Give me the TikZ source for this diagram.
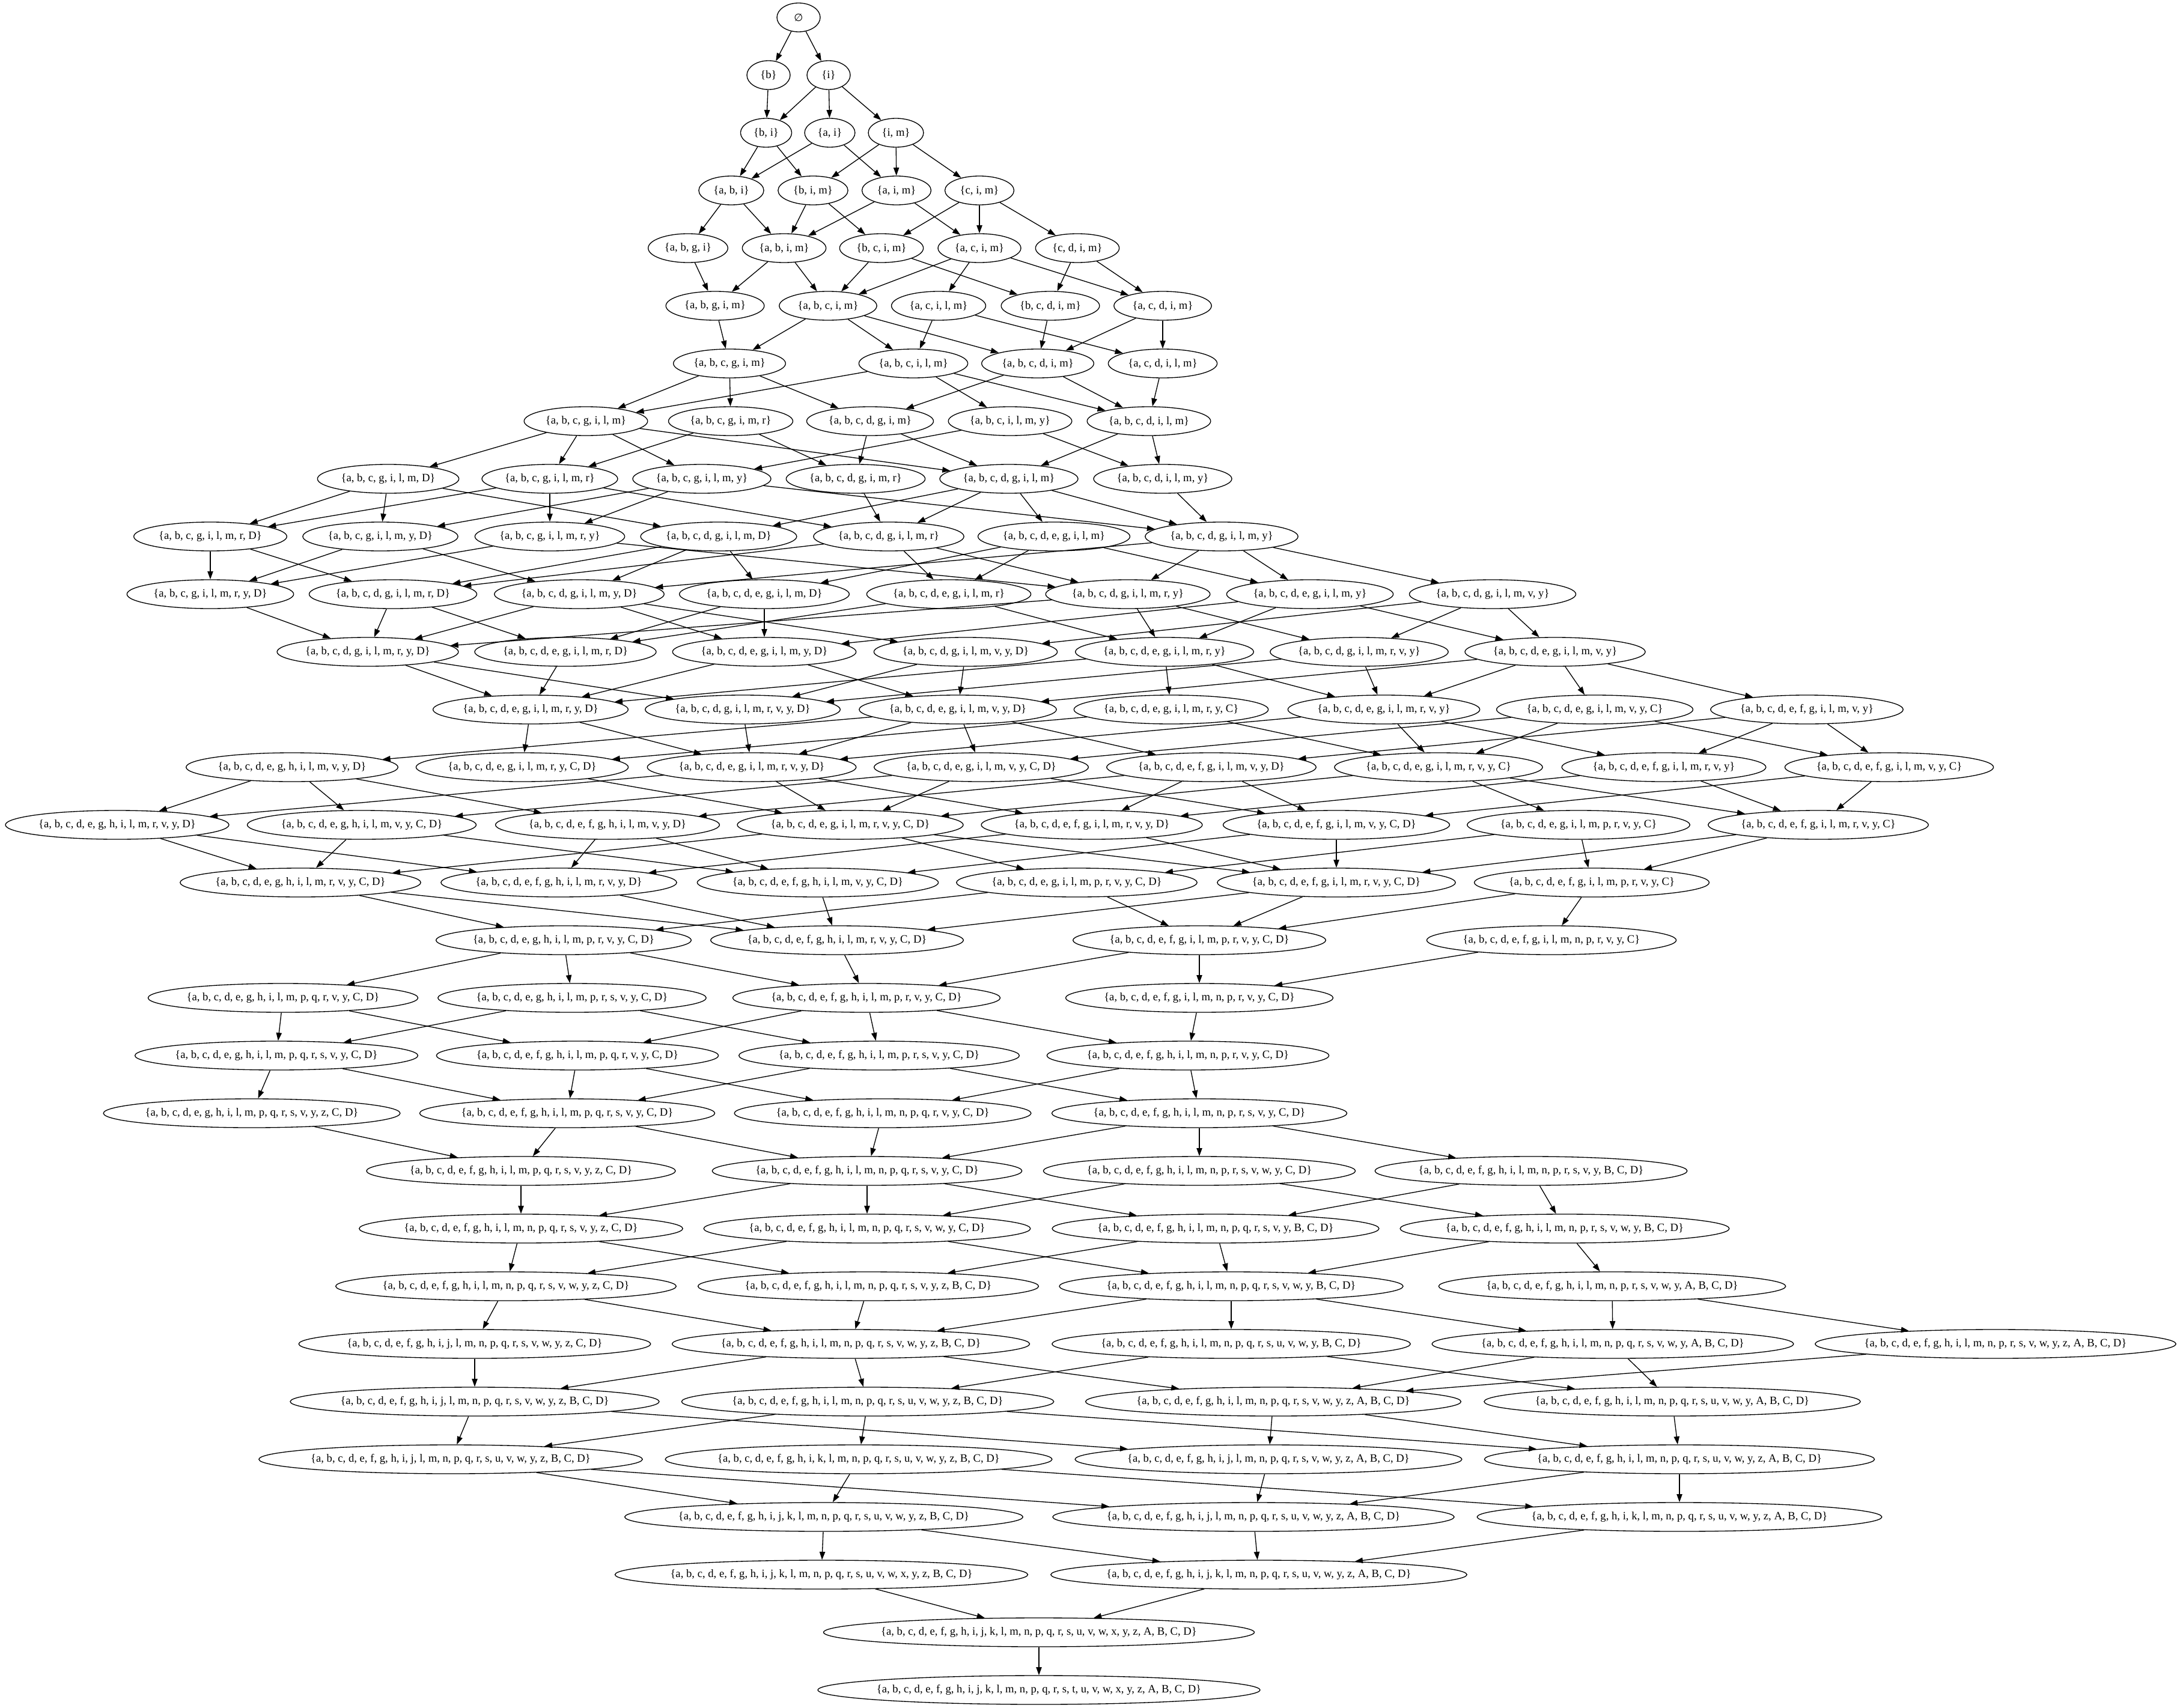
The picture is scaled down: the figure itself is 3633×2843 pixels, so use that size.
\documentclass[tikz,border=0pt]{standalone}
\usepackage{fontspec}
\setmainfont{Liberation Serif}
\newfontfamily\esfont{DejaVu Sans}
\usetikzlibrary{shapes.geometric,arrows.meta}
\newcommand\gfont{\fontsize{14pt}{16pt}\selectfont}
\tikzset{
  gnode/.style={draw, ellipse, inner xsep=8.13pt, inner ysep=2pt, minimum width=54pt, minimum height=36pt, line width=1pt, font=\gfont},
  gedge/.style={-{Triangle[length=10pt,width=7pt]}, line width=1pt}
}
\newcommand\gn[4]{%
  \node[gnode] (#1) at (#2,#3) {\makebox[0.9228\width]{\{#4\}}};}
\begin{document}
\begin{tikzpicture}[x=0.75pt,y=-0.75pt]
\path[fill=white] (0,0) rectangle (3633,2843);
\useasboundingbox (0,0) rectangle (3633,2843);
% row 0
\node[gnode,inner xsep=0pt] (a0) at (1329,29) {\esfont\fontsize{13pt}{15pt}\selectfont ∅};
% row 1
\gn{a1}{1279}{125}{b}
\gn{b1}{1379}{125}{i}
% row 2
\gn{a2}{1275}{221}{b, i}
\gn{b2}{1381}{221}{a, i}
\gn{c2}{1491}{221}{i, m}
% row 3
\gn{a3}{1217}{317}{a, b, i}
\gn{b3}{1353}{317}{b, i, m}
\gn{c3}{1492}{317}{a, i, m}
\gn{d3}{1630}{317}{c, i, m}
% row 4
\gn{a4}{1145}{413}{a, b, g, i}
\gn{b4}{1305}{413}{a, b, i, m}
\gn{c4}{1467}{413}{b, c, i, m}
\gn{d4}{1630}{413}{a, c, i, m}
\gn{e4}{1793}{413}{c, d, i, m}
% row 5
\gn{a5}{1190}{509}{a, b, g, i, m}
\gn{b5}{1378}{509}{a, b, c, i, m}
\gn{c5}{1562}{509}{a, c, i, l, m}
\gn{d5}{1748}{509}{b, c, d, i, m}
\gn{e5}{1935}{509}{a, c, d, i, m}
% row 6
\gn{a6}{1214}{605}{a, b, c, g, i, m}
\gn{b6}{1520}{605}{a, b, c, i, l, m}
\gn{c6}{1727}{605}{a, b, c, d, i, m}
\gn{d6}{1935}{605}{a, c, d, i, l, m}
% row 7
\gn{a7}{975}{701}{a, b, c, g, i, l, m}
\gn{b7}{1216}{701}{a, b, c, g, i, m, r}
\gn{c7}{1448}{701}{a, b, c, d, g, i, m}
\gn{d7}{1681}{701}{a, b, c, i, l, m, y}
\gn{e7}{1912}{701}{a, b, c, d, i, l, m}
% row 8
\gn{a8}{646}{797}{a, b, c, g, i, l, m, D}
\gn{b8}{915}{797}{a, b, c, g, i, l, m, r}
\gn{c8}{1168}{797}{a, b, c, g, i, l, m, y}
\gn{d8}{1424}{797}{a, b, c, d, g, i, m, r}
\gn{e8}{1679}{797}{a, b, c, d, g, i, l, m}
\gn{f8}{1935}{797}{a, b, c, d, i, l, m, y}
% row 9
\gn{a9}{350}{893}{a, b, c, g, i, l, m, r, D}
\gn{b9}{633}{893}{a, b, c, g, i, l, m, y, D}
\gn{c9}{915}{893}{a, b, c, g, i, l, m, r, y}
\gn{d9}{1196}{893}{a, b, c, d, g, i, l, m, D}
\gn{e9}{1479}{893}{a, b, c, d, g, i, l, m, r}
\gn{f9}{1754}{893}{a, b, c, d, e, g, i, l, m}
\gn{g9}{2033}{893}{a, b, c, d, g, i, l, m, y}
% row 10
\gn{a10}{350}{989}{a, b, c, g, i, l, m, r, y, D}
\gn{b10}{654}{989}{a, b, c, d, g, i, l, m, r, D}
\gn{c10}{964}{989}{a, b, c, d, g, i, l, m, y, D}
\gn{d10}{1272}{989}{a, b, c, d, e, g, i, l, m, D}
\gn{e10}{1579}{989}{a, b, c, d, e, g, i, l, m, r}
\gn{f10}{1877}{989}{a, b, c, d, g, i, l, m, r, y}
\gn{g10}{2180}{989}{a, b, c, d, e, g, i, l, m, y}
\gn{h10}{2484}{989}{a, b, c, d, g, i, l, m, v, y}
% row 11
\gn{a11}{612}{1085}{a, b, c, d, g, i, l, m, r, y, D}
\gn{b11}{941}{1085}{a, b, c, d, e, g, i, l, m, r, D}
\gn{c11}{1272}{1085}{a, b, c, d, e, g, i, l, m, y, D}
\gn{d11}{1607}{1085}{a, b, c, d, g, i, l, m, v, y, D}
\gn{e11}{1938}{1085}{a, b, c, d, e, g, i, l, m, r, y}
\gn{f11}{2262}{1085}{a, b, c, d, g, i, l, m, r, v, y}
\gn{g11}{2588}{1085}{a, b, c, d, e, g, i, l, m, v, y}
% row 12
\gn{a12}{883}{1181}{a, b, c, d, e, g, i, l, m, r, y, D}
\gn{b12}{1236}{1181}{a, b, c, d, g, i, l, m, r, v, y, D}
\gn{c12}{1594}{1181}{a, b, c, d, e, g, i, l, m, v, y, D}
\gn{d12}{1949}{1181}{a, b, c, d, e, g, i, l, m, r, y, C}
\gn{e12}{2303}{1181}{a, b, c, d, e, g, i, l, m, r, v, y}
\gn{f12}{2654}{1181}{a, b, c, d, e, g, i, l, m, v, y, C}
\gn{g12}{3007}{1181}{a, b, c, d, e, f, g, i, l, m, v, y}
% row 13
\gn{a13}{486}{1277}{a, b, c, d, e, g, h, i, l, m, v, y, D}
\gn{b13}{869}{1277}{a, b, c, d, e, g, i, l, m, r, y, C, D}
\gn{c13}{1251}{1277}{a, b, c, d, e, g, i, l, m, r, v, y, D}
\gn{d13}{1633}{1277}{a, b, c, d, e, g, i, l, m, v, y, C, D}
\gn{e13}{2016}{1277}{a, b, c, d, e, f, g, i, l, m, v, y, D}
\gn{f13}{2394}{1277}{a, b, c, d, e, g, i, l, m, r, v, y, C}
\gn{g13}{2769}{1277}{a, b, c, d, e, f, g, i, l, m, r, v, y}
\gn{h13}{3144}{1277}{a, b, c, d, e, f, g, i, l, m, v, y, C}
% row 14
\gn{a14}{195}{1373}{a, b, c, d, e, g, h, i, l, m, r, v, y, D}
\gn{b14}{602}{1373}{a, b, c, d, e, g, h, i, l, m, v, y, C, D}
\gn{c14}{1011}{1373}{a, b, c, d, e, f, g, h, i, l, m, v, y, D}
\gn{d14}{1415}{1373}{a, b, c, d, e, g, i, l, m, r, v, y, C, D}
\gn{e14}{1817}{1373}{a, b, c, d, e, f, g, i, l, m, r, v, y, D}
\gn{f14}{2224}{1373}{a, b, c, d, e, f, g, i, l, m, v, y, C, D}
\gn{g14}{2627}{1373}{a, b, c, d, e, g, i, l, m, p, r, v, y, C}
\gn{h14}{3026}{1373}{a, b, c, d, e, f, g, i, l, m, r, v, y, C}
% row 15
\gn{a15}{500}{1469}{a, b, c, d, e, g, h, i, l, m, r, v, y, C, D}
\gn{b15}{930}{1469}{a, b, c, d, e, f, g, h, i, l, m, r, v, y, D}
\gn{c15}{1361}{1469}{a, b, c, d, e, f, g, h, i, l, m, v, y, C, D}
\gn{d15}{1792}{1469}{a, b, c, d, e, g, i, l, m, p, r, v, y, C, D}
\gn{e15}{2224}{1469}{a, b, c, d, e, f, g, i, l, m, r, v, y, C, D}
\gn{f15}{2649}{1469}{a, b, c, d, e, f, g, i, l, m, p, r, v, y, C}
% row 16
\gn{a16}{938}{1565}{a, b, c, d, e, g, h, i, l, m, p, r, v, y, C, D}
\gn{b16}{1393}{1565}{a, b, c, d, e, f, g, h, i, l, m, r, v, y, C, D}
\gn{c16}{1996}{1565}{a, b, c, d, e, f, g, i, l, m, p, r, v, y, C, D}
\gn{d16}{2582}{1565}{a, b, c, d, e, f, g, i, l, m, n, p, r, v, y, C}
% row 17
\gn{a17}{471}{1661}{a, b, c, d, e, g, h, i, l, m, p, q, r, v, y, C, D}
\gn{b17}{952}{1661}{a, b, c, d, e, g, h, i, l, m, p, r, s, v, y, C, D}
\gn{c17}{1442}{1661}{a, b, c, d, e, f, g, h, i, l, m, p, r, v, y, C, D}
\gn{d17}{1996}{1661}{a, b, c, d, e, f, g, i, l, m, n, p, r, v, y, C, D}
% row 18
\gn{a18}{460}{1757}{a, b, c, d, e, g, h, i, l, m, p, q, r, s, v, y, C, D}
\gn{b18}{961}{1757}{a, b, c, d, e, f, g, h, i, l, m, p, q, r, v, y, C, D}
\gn{c18}{1463}{1757}{a, b, c, d, e, f, g, h, i, l, m, p, r, s, v, y, C, D}
\gn{d18}{1977}{1757}{a, b, c, d, e, f, g, h, i, l, m, n, p, r, v, y, C, D}
% row 19
\gn{a19}{419}{1853}{a, b, c, d, e, g, h, i, l, m, p, q, r, s, v, y, z, C, D}
\gn{b19}{944}{1853}{a, b, c, d, e, f, g, h, i, l, m, p, q, r, s, v, y, C, D}
\gn{c19}{1469}{1853}{a, b, c, d, e, f, g, h, i, l, m, n, p, q, r, v, y, C, D}
\gn{d19}{1996}{1853}{a, b, c, d, e, f, g, h, i, l, m, n, p, r, s, v, y, C, D}
% row 20
\gn{a20}{867}{1949}{a, b, c, d, e, f, g, h, i, l, m, p, q, r, s, v, y, z, C, D}
\gn{b20}{1443}{1949}{a, b, c, d, e, f, g, h, i, l, m, n, p, q, r, s, v, y, C, D}
\gn{c20}{1996}{1949}{a, b, c, d, e, f, g, h, i, l, m, n, p, r, s, v, w, y, C, D}
\gn{d20}{2548}{1949}{a, b, c, d, e, f, g, h, i, l, m, n, p, r, s, v, y, B, C, D}
% row 21
\gn{a21}{867}{2045}{a, b, c, d, e, f, g, h, i, l, m, n, p, q, r, s, v, y, z, C, D}
\gn{b21}{1443}{2045}{a, b, c, d, e, f, g, h, i, l, m, n, p, q, r, s, v, w, y, C, D}
\gn{c21}{2023}{2045}{a, b, c, d, e, f, g, h, i, l, m, n, p, q, r, s, v, y, B, C, D}
\gn{d21}{2604}{2045}{a, b, c, d, e, f, g, h, i, l, m, n, p, r, s, v, w, y, B, C, D}
% row 22
\gn{a22}{842}{2141}{a, b, c, d, e, f, g, h, i, l, m, n, p, q, r, s, v, w, y, z, C, D}
\gn{b22}{1445}{2141}{a, b, c, d, e, f, g, h, i, l, m, n, p, q, r, s, v, y, z, B, C, D}
\gn{c22}{2049}{2141}{a, b, c, d, e, f, g, h, i, l, m, n, p, q, r, s, v, w, y, B, C, D}
\gn{d22}{2683}{2141}{a, b, c, d, e, f, g, h, i, l, m, n, p, r, s, v, w, y, A, B, C, D}
% row 23
\gn{a23}{790}{2237}{a, b, c, d, e, f, g, h, i, j, l, m, n, p, q, r, s, v, w, y, z, C, D}
\gn{b23}{1416}{2237}{a, b, c, d, e, f, g, h, i, l, m, n, p, q, r, s, v, w, y, z, B, C, D}
\gn{c23}{2049}{2237}{a, b, c, d, e, f, g, h, i, l, m, n, p, q, r, s, u, v, w, y, B, C, D}
\gn{d23}{2684}{2237}{a, b, c, d, e, f, g, h, i, l, m, n, p, q, r, s, v, w, y, A, B, C, D}
\gn{e23}{3321}{2237}{a, b, c, d, e, f, g, h, i, l, m, n, p, r, s, v, w, y, z, A, B, C, D}
% row 24
\gn{a24}{790}{2333}{a, b, c, d, e, f, g, h, i, j, l, m, n, p, q, r, s, v, w, y, z, B, C, D}
\gn{b24}{1444}{2333}{a, b, c, d, e, f, g, h, i, l, m, n, p, q, r, s, u, v, w, y, z, B, C, D}
\gn{c24}{2119}{2333}{a, b, c, d, e, f, g, h, i, l, m, n, p, q, r, s, v, w, y, z, A, B, C, D}
\gn{d24}{2783}{2333}{a, b, c, d, e, f, g, h, i, l, m, n, p, q, r, s, u, v, w, y, A, B, C, D}
% row 25
\gn{a25}{750}{2429}{a, b, c, d, e, f, g, h, i, j, l, m, n, p, q, r, s, u, v, w, y, z, B, C, D}
\gn{b25}{1429}{2429}{a, b, c, d, e, f, g, h, i, k, l, m, n, p, q, r, s, u, v, w, y, z, B, C, D}
\gn{c25}{2111}{2429}{a, b, c, d, e, f, g, h, i, j, l, m, n, p, q, r, s, v, w, y, z, A, B, C, D}
\gn{d25}{2795}{2429}{a, b, c, d, e, f, g, h, i, l, m, n, p, q, r, s, u, v, w, y, z, A, B, C, D}
% row 26
\gn{a26}{1371}{2525}{a, b, c, d, e, f, g, h, i, j, k, l, m, n, p, q, r, s, u, v, w, y, z, B, C, D}
\gn{b26}{2086}{2525}{a, b, c, d, e, f, g, h, i, j, l, m, n, p, q, r, s, u, v, w, y, z, A, B, C, D}
\gn{c26}{2795}{2525}{a, b, c, d, e, f, g, h, i, k, l, m, n, p, q, r, s, u, v, w, y, z, A, B, C, D}
% row 27
\gn{a27}{1367}{2621}{a, b, c, d, e, f, g, h, i, j, k, l, m, n, p, q, r, s, u, v, w, x, y, z, B, C, D}
\gn{b27}{2095}{2621}{a, b, c, d, e, f, g, h, i, j, k, l, m, n, p, q, r, s, u, v, w, y, z, A, B, C, D}
% row 28
\gn{a28}{1729}{2717}{a, b, c, d, e, f, g, h, i, j, k, l, m, n, p, q, r, s, u, v, w, x, y, z, A, B, C, D}
% row 29
\gn{a29}{1729}{2813}{a, b, c, d, e, f, g, h, i, j, k, l, m, n, p, q, r, s, t, u, v, w, x, y, z, A, B, C, D}
% edges
\foreach \s/\t in {
a0/a1, a0/b1,
a1/a2, b1/a2, b1/b2, b1/c2,
a2/a3, a2/b3, b2/a3, b2/c3, c2/b3, c2/c3, c2/d3,
a3/a4, a3/b4, b3/b4, b3/c4, c3/b4, c3/d4, d3/c4, d3/d4, d3/e4,
a4/a5, b4/a5, b4/b5, c4/b5, c4/d5, d4/b5, d4/c5, d4/e5, e4/d5, e4/e5,
a5/a6, b5/a6, b5/b6, b5/c6, c5/b6, c5/d6, d5/c6, e5/c6, e5/d6,
a6/a7, a6/b7, a6/c7, b6/a7, b6/d7, b6/e7, c6/c7, c6/e7, d6/e7,
a7/a8, a7/b8, a7/c8, a7/e8, b7/b8, b7/d8, c7/d8, c7/e8, d7/c8, d7/f8, e7/e8, e7/f8,
a8/a9, a8/b9, a8/d9, b8/a9, b8/c9, b8/e9, c8/b9, c8/c9, c8/g9, d8/e9, e8/d9, e8/e9, e8/f9, e8/g9, f8/g9,
a9/a10, a9/b10, b9/a10, b9/c10, c9/a10, c9/f10, d9/b10, d9/c10, d9/d10, e9/b10, e9/e10, e9/f10, f9/d10, f9/e10, f9/g10, g9/c10, g9/f10, g9/g10, g9/h10,
a10/a11, b10/a11, b10/b11, c10/a11, c10/c11, c10/d11, d10/b11, d10/c11, e10/b11, e10/e11, f10/a11, f10/e11, f10/f11, g10/c11, g10/e11, g10/g11, h10/d11, h10/f11, h10/g11,
a11/a12, a11/b12, b11/a12, c11/a12, c11/c12, d11/b12, d11/c12, e11/a12, e11/d12, e11/e12, f11/b12, f11/e12, g11/c12, g11/e12, g11/f12, g11/g12,
a12/b13, a12/c13, b12/c13, c12/a13, c12/c13, c12/d13, c12/e13, d12/b13, d12/f13, e12/c13, e12/f13, e12/g13, f12/d13, f12/f13, f12/h13, g12/e13, g12/g13, g12/h13,
a13/a14, a13/b14, a13/c14, b13/d14, c13/a14, c13/d14, c13/e14, d13/b14, d13/d14, d13/f14, e13/c14, e13/e14, e13/f14, f13/d14, f13/g14, f13/h14, g13/e14, g13/h14, h13/f14, h13/h14,
a14/a15, a14/b15, b14/a15, b14/c15, c14/b15, c14/c15, d14/a15, d14/d15, d14/e15, e14/b15, e14/e15, f14/c15, f14/e15, g14/d15, g14/f15, h14/e15, h14/f15,
a15/a16, a15/b16, b15/b16, c15/b16, d15/a16, d15/c16, e15/b16, e15/c16, f15/c16, f15/d16,
a16/a17, a16/b17, a16/c17, b16/c17, c16/c17, c16/d17, d16/d17,
a17/a18, a17/b18, b17/a18, b17/c18, c17/b18, c17/c18, c17/d18, d17/d18,
a18/a19, a18/b19, b18/b19, b18/c19, c18/b19, c18/d19, d18/c19, d18/d19,
a19/a20, b19/a20, b19/b20, c19/b20, d19/b20, d19/c20, d19/d20,
a20/a21, b20/a21, b20/b21, b20/c21, c20/b21, c20/d21, d20/c21, d20/d21,
a21/a22, a21/b22, b21/a22, b21/c22, c21/b22, c21/c22, d21/c22, d21/d22,
a22/a23, a22/b23, b22/b23, c22/b23, c22/c23, c22/d23, d22/d23, d22/e23,
a23/a24, b23/a24, b23/b24, b23/c24, c23/b24, c23/d24, d23/c24, d23/d24, e23/c24,
a24/a25, a24/c25, b24/a25, b24/b25, b24/d25, c24/c25, c24/d25, d24/d25,
a25/a26, a25/b26, b25/a26, b25/c26, c25/b26, d25/b26, d25/c26,
a26/a27, a26/b27, b26/b27, c26/b27,
a27/a28, b27/a28,
a28/a29}
  \draw[gedge] (\s) -- (\t);
\end{tikzpicture}
\end{document}
